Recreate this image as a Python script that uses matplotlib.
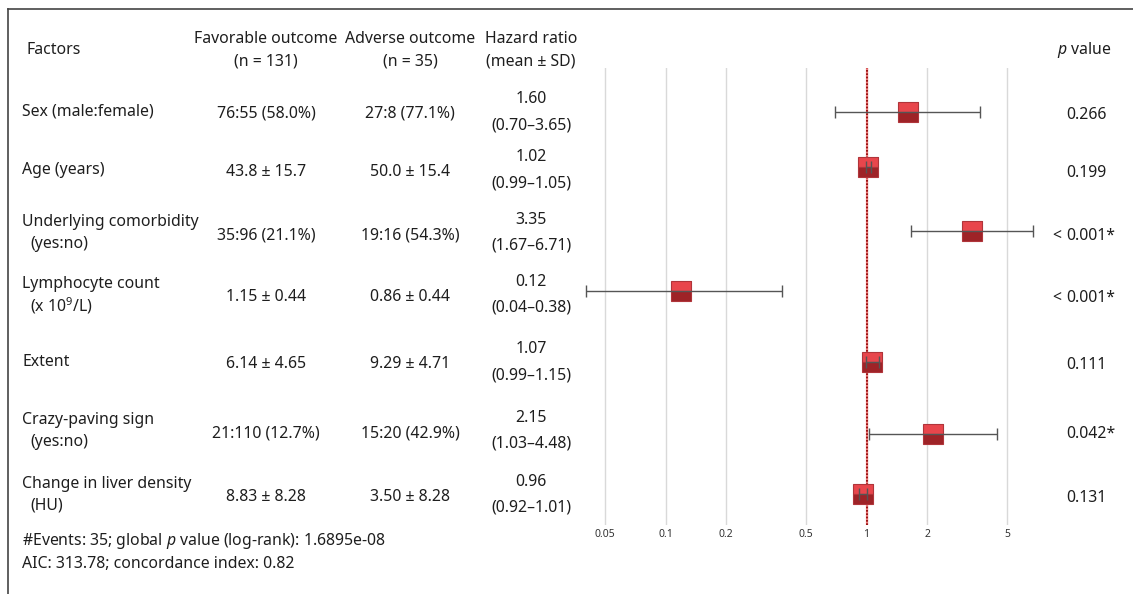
import matplotlib.pyplot as plt
import numpy as np

plt.rcParams['font.family'] = ['Noto Sans', 'DejaVu Sans']
plt.rcParams['mathtext.fontset'] = 'custom'
plt.rcParams['mathtext.rm'] = 'Noto Sans'
plt.rcParams['mathtext.it'] = 'Noto Sans:italic'

# table data
factor_main = ['Sex (male:female)', 'Age (years)', 'Underlying comorbidity', 'Lymphocyte count',
               'Extent', 'Crazy-paving sign', 'Change in liver density']
factor_sub = ['', '', '(yes:no)', '(x 10$^{9}$/L)', '', '(yes:no)', '(HU)']
favorable = ['76:55 (58.0%)', '43.8 ± 15.7', '35:96 (21.1%)', '1.15 ± 0.44',
             '6.14 ± 4.65', '21:110 (12.7%)', '8.83 ± 8.28']
adverse = ['27:8 (77.1%)', '50.0 ± 15.4', '19:16 (54.3%)', '0.86 ± 0.44',
           '9.29 ± 4.71', '15:20 (42.9%)', '3.50 ± 8.28']
hr = [1.60, 1.02, 3.35, 0.12, 1.07, 2.15, 0.96]
ci_low = [0.70, 0.99, 1.67, 0.04, 0.99, 1.03, 0.92]
ci_high = [3.65, 1.05, 6.71, 0.38, 1.15, 4.48, 1.01]
p_values = ['0.266', '0.199', '< 0.001*', '< 0.001*', '0.111', '0.042*', '0.131']
xticks = [0.05, 0.1, 0.2, 0.5, 1, 2, 5]
xtick_labels = ['0.05', '0.1', '0.2', '0.5', '1', '2', '5']

# layout (pixels)
W, H = 1133, 594
row_y = [112, 167, 231, 291, 362, 434, 494]
text_y = [112, 170, 233, 295, 362, 431, 495]
fs = 11.4
tc = '#1e1e1e'

fig = plt.figure(figsize=(W / 100, H / 100), dpi=100)
bg = fig.add_axes([0, 0, 1, 1])
bg.set_xlim(0, W)
bg.set_ylim(H, 0)
bg.axis('off')

# frame
bg.plot([8, 8], [9, H], color='#444444', lw=1.2)
bg.plot([8, W], [9, 9], color='#444444', lw=1.2)

# header
bg.text(27, 50, 'Factors', fontsize=fs, color=tc, va='center')
for cx, top, bot in [(266, 'Favorable outcome', '(n = 131)'),
                     (410, 'Adverse outcome', '(n = 35)'),
                     (531, 'Hazard ratio', '(mean ± SD)')]:
    bg.text(cx, 39, top, fontsize=fs, color=tc, ha='center', va='center')
    bg.text(cx, 62, bot, fontsize=fs, color=tc, ha='center', va='center')
bg.text(1112, 50, '$p$ value', fontsize=fs, color=tc, ha='right', va='center')

# rows
for i in range(len(hr)):
    y = text_y[i]
    if factor_sub[i]:
        bg.text(22, y - 11, factor_main[i], fontsize=fs, color=tc, va='center')
        bg.text(30, y + 11, factor_sub[i], fontsize=fs, color=tc, va='center')
    else:
        bg.text(22, y, factor_main[i], fontsize=fs, color=tc, va='center')
    bg.text(266, y + 2, favorable[i], fontsize=fs, color=tc, ha='center', va='center')
    bg.text(410, y + 2, adverse[i], fontsize=fs, color=tc, ha='center', va='center')
    bg.text(531, y - 13, f'{hr[i]:.2f}', fontsize=fs, color=tc, ha='center', va='center')
    bg.text(531, y + 13, f'({ci_low[i]:.2f}–{ci_high[i]:.2f})', fontsize=fs, color=tc,
            ha='center', va='center')
    pv = p_values[i]
    if pv.startswith('<'):
        bg.text(1066, y + 3, pv[2:], fontsize=fs, color=tc, ha='left', va='center')
        bg.text(1061, y + 3, '<', fontsize=fs, color=tc, ha='right', va='center')
    else:
        bg.text(1066, y + 3, pv, fontsize=fs, color=tc, ha='left', va='center')

# footer
bg.text(22, 541, '#Events: 35; global $p$ value (log-rank): 1.6895e-08', fontsize=fs,
        color=tc, va='center')
bg.text(22, 564, 'AIC: 313.78; concordance index: 0.82', fontsize=fs, color=tc, va='center')

# forest plot
left, right, top, bottom = 592, 1040, 68, 525
ax = fig.add_axes([left / W, 1 - bottom / H, (right - left) / W, (bottom - top) / H])
ax.set_xscale('log')
px2val = lambda px: 10 ** ((px - 866.5) / 201.0)
ax.set_xlim(px2val(left), px2val(right))
ax.set_ylim(bottom, top)
ax.patch.set_alpha(0)
for s in ax.spines.values():
    s.set_visible(False)
ax.set_yticks([])
ax.minorticks_off()
ax.set_xticks(xticks)
ax.set_xticklabels(xtick_labels, fontsize=7.5, color='#333333')
ax.tick_params(axis='x', length=0, pad=3)
for t in xticks:
    ax.axvline(t, color='#d9d9d9', lw=1, zorder=0)
ax.axvline(1, color='#f08080', lw=1.6, zorder=1)
ax.axvline(1, color='#8b0000', lw=1.2, ls=(0, (1, 1)), zorder=1)

hr_a = np.array(hr)
err = [hr_a - np.array(ci_low), np.array(ci_high) - hr_a]
ax.plot(hr, row_y, ls='none', marker='s', ms=15, fillstyle='top',
        markerfacecolor='#e8464c', markerfacecoloralt='#9e2327',
        markeredgecolor='#b0353a', markeredgewidth=0.8, zorder=3)
ax.errorbar(hr, row_y, xerr=err, fmt='none', ecolor='#555555', elinewidth=1,
            capsize=4, capthick=1, zorder=4, clip_on=False)

fig.savefig('out.png', dpi=100)
